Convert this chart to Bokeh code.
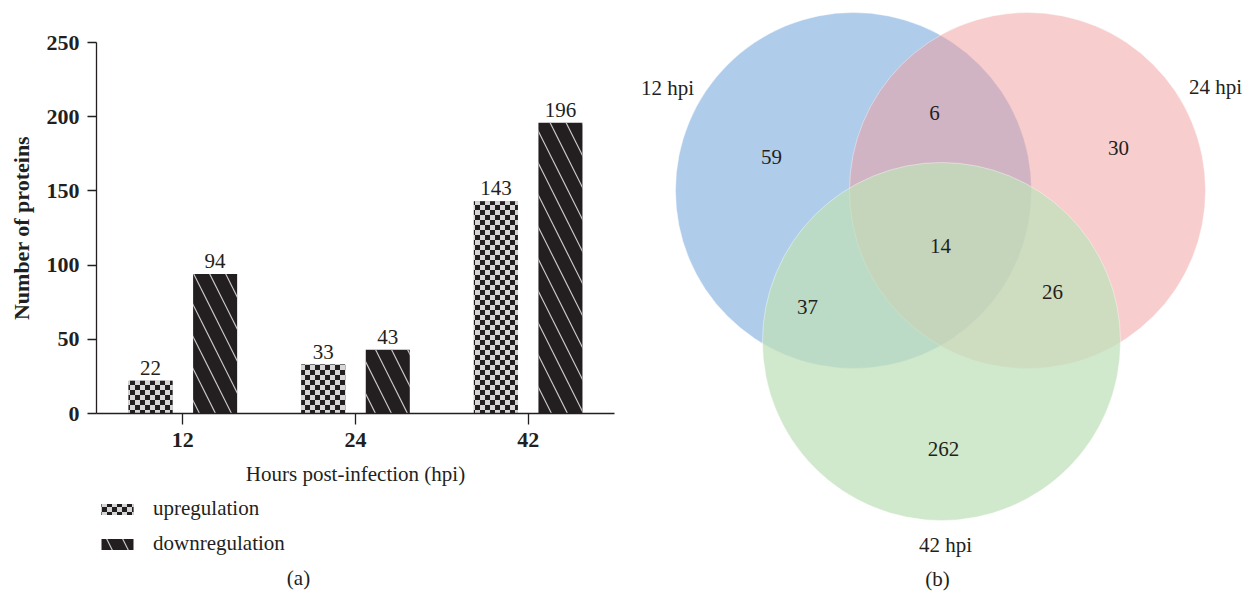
import zlib, struct, base64
from bokeh.plotting import figure
from bokeh.models import (ColumnDataSource, FactorRange, Range1d, Legend, LegendItem,
                          ImageURLTexture)
from bokeh.transform import dodge
from bokeh.layouts import row, column
from bokeh.core.properties import value
from bokeh.embed import file_html
from bokeh.resources import INLINE

# ---------------- data ----------------
hours = ["12", "24", "42"]
up = [22, 33, 143]
down = [94, 43, 196]
y_ticks = [0, 50, 100, 150, 200, 250]
series_names = ["upregulation", "downregulation"]

set_names = ["12 hpi", "24 hpi", "42 hpi"]
region_counts = [59, 6, 30, 14, 37, 26, 262]

# venn layout (page pixel space)
circle_x = [853, 1027, 941]
circle_y = [190, 190, 341]
circle_r = [178, 178, 179]
circle_colors = ["#5f99d7", "#f19b9b", "#c0e0ba"]
circle_alpha = [0.5, 0.5, 0.75]
count_x = [771, 934, 1118, 940, 807, 1052, 943]
count_y = [156, 112, 147, 245, 306, 291, 448]
name_x = [667, 1215, 945]
name_y = [87, 86, 544]

FONT = "Liberation Serif"
INK = "#231f20"


def checker_png(cell, dark, light):
    n = cell * 2
    raw = b""
    for yy in range(n):
        raw += b"\x00"
        for xx in range(n):
            raw += bytes(dark if ((xx // cell) + (yy // cell)) % 2 == 0 else light)

    def chunk(tag, data):
        c = struct.pack(">I", len(data)) + tag + data
        return c + struct.pack(">I", zlib.crc32(tag + data) & 0xFFFFFFFF)

    png = (b"\x89PNG\r\n\x1a\n"
           + chunk(b"IHDR", struct.pack(">IIBBBBB", n, n, 8, 2, 0, 0, 0))
           + chunk(b"IDAT", zlib.compress(raw))
           + chunk(b"IEND", b""))
    return "data:image/png;base64," + base64.b64encode(png).decode()


checker = ImageURLTexture(url=checker_png(5, (35, 31, 32), (214, 214, 214)))
UP_STYLE = dict(fill_color="#8a8a8a", line_color=None, hatch_pattern="pat",
                hatch_extra={"checker": checker}, hatch_color=INK)
DOWN_STYLE = dict(fill_color=INK, line_color=None, hatch_pattern="left_diagonal_line",
                  hatch_color="#c8c8c8", hatch_weight=1.2, hatch_scale=32)

# ---------------- bar chart ----------------
p = figure(width=623, height=494, x_range=FactorRange(factors=hours),
           y_range=Range1d(0, 250), output_backend="svg", toolbar_location=None,
           min_border_left=96, min_border_right=9, min_border_top=42,
           min_border_bottom=81, frame_align=False)
p.outline_line_color = None
p.grid.visible = False

src = ColumnDataSource(dict(hours=hours, up=up, down=down,
                            up_txt=[str(v) for v in up],
                            down_txt=[str(v) for v in down],
                            pat=["checker"] * len(hours)))

p.vbar(x=dodge("hours", -0.187, range=p.x_range), top="up", width=0.255,
       source=src, **UP_STYLE)
p.vbar(x=dodge("hours", 0.187, range=p.x_range), top="down", width=0.255,
       source=src, **DOWN_STYLE)

p.text(x=dodge("hours", -0.187, range=p.x_range), y="up", text="up_txt", source=src,
       text_font=value(FONT), text_font_size="21px", text_color=INK,
       text_align="center", text_baseline="alphabetic", y_offset=-13)
p.text(x=dodge("hours", 0.187, range=p.x_range), y="down", text="down_txt", source=src,
       text_font=value(FONT), text_font_size="21px", text_color=INK,
       text_align="center", text_baseline="alphabetic", y_offset=-13)

for ax in (p.xaxis[0], p.yaxis[0]):
    ax.axis_line_color = INK
    ax.axis_line_width = 1.3
    ax.major_tick_line_color = INK
    ax.major_tick_line_width = 1.3
    ax.minor_tick_line_color = None
    ax.major_tick_in = 0
    ax.major_label_text_font = FONT
    ax.major_label_text_font_style = "bold"
    ax.major_label_text_font_size = "22px"
    ax.major_label_text_color = INK
    ax.axis_label_text_font = FONT
    ax.axis_label_text_color = INK

p.yaxis.ticker = y_ticks
p.yaxis.major_tick_out = 9
p.yaxis.major_label_standoff = 8
p.yaxis.axis_label = "Number of proteins"
p.yaxis.axis_label_text_font_style = "bold"
p.yaxis.axis_label_text_font_size = "22px"
p.yaxis.axis_label_standoff = 10

p.xaxis.major_tick_out = 11
p.xaxis.major_label_standoff = 8
p.xaxis.axis_label = "Hours post-infection (hpi)"
p.xaxis.axis_label_text_font_style = "normal"
p.xaxis.axis_label_text_font_size = "21px"
p.xaxis.axis_label_standoff = 12

# ---------------- legend strip + (a) ----------------
lg = figure(width=623, height=102, x_range=Range1d(0, 623), y_range=Range1d(596, 494),
            x_axis_type=None, y_axis_type=None, output_backend="svg",
            toolbar_location=None, min_border=0, frame_align=False)
lg.outline_line_color = None
lg.grid.visible = False
key_src = ColumnDataSource(dict(x=[0], top=[0], pat=["checker"]))
k_up = lg.vbar(x="x", top="top", bottom="top", width=0, source=key_src, **UP_STYLE)
k_down = lg.vbar(x="x", top="top", bottom="top", width=0, source=key_src, **DOWN_STYLE)
legend = Legend(items=[LegendItem(label=series_names[0], renderers=[k_up], index=0),
                       LegendItem(label=series_names[1], renderers=[k_down], index=0)],
                location=(97, 40), orientation="vertical",
                glyph_width=40, glyph_height=14, label_standoff=16, spacing=10,
                padding=0, margin=0, background_fill_alpha=0, border_line_color=None,
                label_text_font=FONT, label_text_font_size="21px",
                label_text_color=INK)
lg.add_layout(legend)
lg.text(x=[298], y=[577], text=["(a)"], text_font=value(FONT), text_font_size="21px",
        text_color=INK, text_align="center", text_baseline="middle")

# ---------------- venn diagram ----------------
v = figure(width=628, height=596, x_range=Range1d(623, 1251), y_range=Range1d(596, 0),
           x_axis_type=None, y_axis_type=None, output_backend="svg",
           toolbar_location=None, min_border=0, frame_align=False)
v.outline_line_color = None
v.grid.visible = False

csrc = ColumnDataSource(dict(x=circle_x, y=circle_y, r=circle_r, c=circle_colors,
                             a=circle_alpha))
v.circle(x="x", y="y", radius="r", source=csrc, fill_color="c", fill_alpha="a",
         line_color="white", line_alpha=0.5, line_width=0.8)

v.text(x=count_x, y=count_y, text=[str(c) for c in region_counts],
       text_font=value(FONT), text_font_size="21px", text_color=INK,
       text_align="center", text_baseline="middle")
v.text(x=name_x, y=name_y, text=set_names,
       text_font=value(FONT), text_font_size="21px", text_color=INK,
       text_align="center", text_baseline="middle")
v.text(x=[937], y=[578], text=["(b)"],
       text_font=value(FONT), text_font_size="21px", text_color=INK,
       text_align="center", text_baseline="middle")

layout = row(column(p, lg), v)
open("out.html", "w").write(file_html(layout, INLINE))
